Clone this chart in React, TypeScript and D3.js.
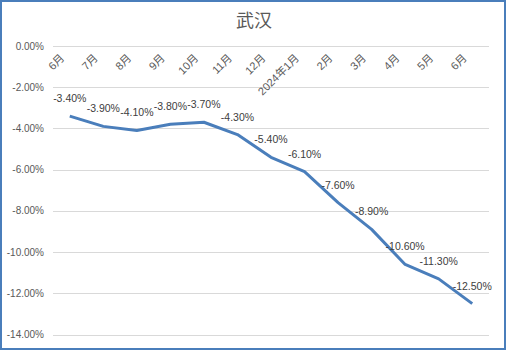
import React from 'react';
import * as d3 from 'd3';

const title = '武汉';
const categories = ['6月', '7月', '8月', '9月', '10月', '11月', '12月', '2024年1月', '2月', '3月', '4月', '5月', '6月 '];
const changes = [-3.4, -3.9, -4.1, -3.8, -3.7, -4.3, -5.4, -6.1, -7.6, -8.9, -10.6, -11.3, -12.5];
const yTicks = [0, -2, -4, -6, -8, -10, -12, -14];

const font = '"Liberation Sans", Arial, "Noto Sans CJK SC", sans-serif';

const App: React.FC = () => {
    const width = 509;
    const height = 352;

    const x = d3.scaleBand<string>().domain(categories).range([53, 489]);
    const y = d3.scaleLinear().domain([-14, 0]).range([334.5, 46]);
    const cx = (c: string) => (x(c) ?? 0) + x.bandwidth() / 2;

    const line = d3.line<number>()
        .x((_, i) => cx(categories[i]))
        .y(d => y(d));

    const fmt = (v: number) => `${v.toFixed(2)}%`;

    return (
        <svg width={width} height={height} style={{ position: 'absolute', left: 0, top: 0 }} fontFamily={font}>
            <rect x={0} y={0} width={width} height={height} fill="#fff" />
            <rect x={1} y={1} width={504} height={348} fill="none" stroke="#4A7EBB" strokeWidth={2} />

            <text x={254} y={27} textAnchor="middle" fontSize={18} fill="#595959">{title}</text>

            {/* gridlines + y tick labels */}
            {yTicks.map(t => (
                <g key={t}>
                    <line x1={53} x2={489} y1={Math.round(y(t)) + 0.5} y2={Math.round(y(t)) + 0.5} stroke="#d9d9d9" strokeWidth={1} />
                    <text x={44} y={y(t)} dy="0.35em" textAnchor="end" fontSize={10} fill="#595959">{fmt(t)}</text>
                </g>
            ))}

            {/* category labels, rotated, hanging below the zero line */}
            {categories.map(c => (
                <text
                    key={c}
                    transform={`translate(${cx(c) - 7.5},${y(0) + 10}) rotate(-45)`}
                    textAnchor="end"
                    dy="0.35em"
                    fontSize={11}
                    fill="#595959"
                >
                    {c.trim()}
                </text>
            ))}

            <path d={line(changes) ?? ''} fill="none" stroke="#4A7EBB" strokeWidth={3} strokeLinejoin="round" />

            {changes.map((v, i) => (
                <text
                    key={i}
                    x={cx(categories[i])}
                    y={y(v) - 14}
                    textAnchor="middle"
                    fontSize={10.5}
                    fill="#404040"
                >
                    {fmt(v)}
                </text>
            ))}
        </svg>
    );
};

export default App;
